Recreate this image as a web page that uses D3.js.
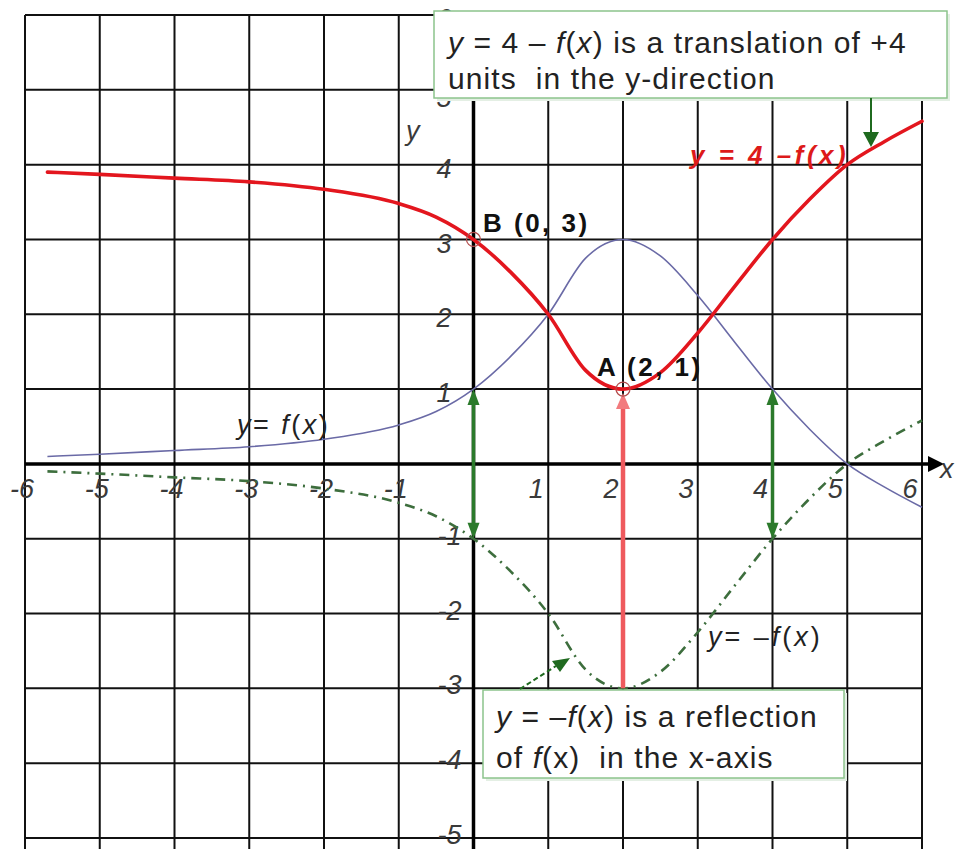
<!DOCTYPE html>
<html>
<head>
<meta charset="utf-8">
<script src="https://cdn.jsdelivr.net/npm/d3@7"></script>
<style>
  html, body { margin: 0; padding: 0; background: #fff; }
  svg { display: block; }
  text { font-family: "Liberation Sans", Arial, sans-serif; }
</style>
</head>
<body>
<svg id="chart" width="955" height="849"></svg>
<script>
// ---- data ----
const xTicks = [-6, -5, -4, -3, -2, -1, 1, 2, 3, 4, 5, 6];
const yTicks = [-5, -4, -3, -2, -1, 1, 2, 3, 4, 5, 6];
const gridX = [-6, -5, -4, -3, -2, -1, 0, 1, 2, 3, 4, 5, 6];
const gridY = [-5, -4, -3, -2, -1, 0, 1, 2, 3, 4, 5, 6];
const fX = [-5.7, -5, -4, -3, -2, -1, -0.5, 0, 0.5, 1, 1.5, 2, 2.5, 3, 3.5, 4, 4.5, 5, 5.5, 6];
const fY = [0.1, 0.13, 0.18, 0.23, 0.33, 0.52, 0.7, 1, 1.44, 2, 2.75, 3, 2.78, 2.25, 1.62, 1, 0.46, 0, -0.31, -0.58];
const pointsAB = [{name: "A (2, 1)", x: 2, y: 1}, {name: "B (0, 3)", x: 0, y: 3}];
const greenArrowX = [0, 4];

// ---- scales ----
const W = 955, H = 849;
const x = d3.scaleLinear().domain([-6, 6]).range([25, 922]);
const y = d3.scaleLinear().domain([-5, 6]).range([838, 15]);

const svg = d3.select("#chart");

// grid
const grid = svg.append("g");
grid.selectAll("line.v").data(gridX).join("line")
  .attr("x1", d => x(d)).attr("x2", d => x(d))
  .attr("y1", y(6)).attr("y2", H)
  .attr("stroke", "#111").attr("stroke-width", 2);
grid.selectAll("line.h").data(gridY.filter(d => d !== 0)).join("line")
  .attr("x1", x(-6)).attr("x2", x(6))
  .attr("y1", d => y(d)).attr("y2", d => y(d))
  .attr("stroke", "#111").attr("stroke-width", 2);

// axes (thick)
svg.append("line").attr("x1", x(-6)).attr("x2", x(6) + 8)
  .attr("y1", y(0)).attr("y2", y(0)).attr("stroke", "#000").attr("stroke-width", 3.5);
svg.append("path")
  .attr("d", `M${x(6) + 6},${y(0) - 8} L${x(6) + 22},${y(0)} L${x(6) + 6},${y(0) + 8} Z`)
  .attr("fill", "#000");
svg.append("line").attr("x1", x(0)).attr("x2", x(0))
  .attr("y1", y(6)).attr("y2", H).attr("stroke", "#000").attr("stroke-width", 3.5);

// tick labels
const tickStyle = sel => sel.attr("font-size", 27).attr("font-style", "italic")
  .attr("fill", "#3a3a3a");
svg.append("g").selectAll("text").data(xTicks).join("text")
  .attr("x", d => x(d) + (d < 0 ? -3 : -12))
  .attr("y", y(0) + 27)
  .attr("dominant-baseline", "middle")
  .attr("text-anchor", "middle")
  .text(d => d < 0 ? "-" + Math.abs(d) : d)
  .call(tickStyle);
svg.append("g").selectAll("text").data(yTicks).join("text")
  .attr("x", d => x(0) + (d < 0 ? -12 : -22))
  .attr("y", d => y(d) + (d > 0 ? (d === 5 ? 10 : 6) : -1))
  .attr("dominant-baseline", "middle")
  .attr("text-anchor", "end")
  .text(d => d < 0 ? "-" + Math.abs(d) : d)
  .call(tickStyle);
svg.append("text").attr("x", 406).attr("y", 140).text("y").call(tickStyle);
svg.append("text").attr("x", 940).attr("y", 478).text("x").call(tickStyle);

// curves
const fData = fX.map((v, i) => ({x: v, f: fY[i]}));
const mk = acc => d3.line().x(d => x(d.x)).y(d => y(acc(d))).curve(d3.curveMonotoneX);

svg.append("path").datum(fData).attr("d", mk(d => -d.f))
  .attr("fill", "none").attr("stroke", "#3d6e3d").attr("stroke-width", 2.6)
  .attr("stroke-dasharray", "10,6,2,6");

svg.append("path").datum(fData).attr("d", mk(d => d.f))
  .attr("fill", "none").attr("stroke", "#6a6aa6").attr("stroke-width", 1.6);

// green double arrows
const gA = svg.append("g");
greenArrowX.forEach(v => {
  const cx = x(v), yt = y(1), yb = y(-1);
  gA.append("line").attr("x1", cx).attr("x2", cx).attr("y1", yt + 10).attr("y2", yb - 10)
    .attr("stroke", "#2b7a2b").attr("stroke-width", 3.5);
  gA.append("path").attr("d", `M${cx},${yt} L${cx - 6},${yt + 16} L${cx + 6},${yt + 16} Z`).attr("fill", "#2b7a2b");
  gA.append("path").attr("d", `M${cx},${yb} L${cx - 6},${yb - 16} L${cx + 6},${yb - 16} Z`).attr("fill", "#2b7a2b");
});

// red vertical arrow at x=2
svg.append("line").attr("x1", x(2)).attr("x2", x(2)).attr("y1", y(-3)).attr("y2", y(1) + 14)
  .attr("stroke", "#ef5a5e").attr("stroke-width", 4.5);
svg.append("path")
  .attr("d", `M${x(2)},${y(1) + 4} L${x(2) - 7},${y(1) + 20} L${x(2) + 7},${y(1) + 20} Z`)
  .attr("fill", "#f27b7e");

// red curve 4 - f(x)
svg.append("path").datum(fData).attr("d", mk(d => 4 - d.f))
  .attr("fill", "none").attr("stroke", "#e3161e").attr("stroke-width", 3.6)
  .attr("stroke-linecap", "round");

// point markers
svg.append("g").selectAll("circle").data(pointsAB).join("circle")
  .attr("cx", d => x(d.x)).attr("cy", d => y(d.y)).attr("r", 7)
  .attr("fill", "none").attr("stroke", "#b24a4a").attr("stroke-width", 1.2);
svg.append("text").attr("x", 483).attr("y", 232).attr("font-size", 26).attr("font-weight", "bold")
  .attr("letter-spacing", 2.5).attr("fill", "#111").text(pointsAB[1].name);
svg.append("text").attr("x", 597).attr("y", 376).attr("font-size", 26).attr("font-weight", "bold")
  .attr("letter-spacing", 2.5).attr("fill", "#111").text(pointsAB[0].name);

// curve labels
svg.append("text").attr("x", 690).attr("y", 164).attr("font-size", 26).attr("font-weight", "bold")
  .attr("font-style", "italic").attr("letter-spacing", 3.5).attr("fill", "#dd1a1a").text("y = 4 –f(x)");
const lab1 = svg.append("text").attr("x", 237).attr("y", 434).attr("font-size", 27)
  .attr("letter-spacing", 2.5).attr("fill", "#222");
lab1.append("tspan").attr("font-style", "italic").text("y");
lab1.append("tspan").text("= ");
lab1.append("tspan").attr("font-style", "italic").text("f");
lab1.append("tspan").text("(");
lab1.append("tspan").attr("font-style", "italic").text("x");
lab1.append("tspan").text(")");
const lab2 = svg.append("text").attr("x", 708).attr("y", 646).attr("font-size", 27)
  .attr("letter-spacing", 3).attr("fill", "#222");
lab2.append("tspan").attr("font-style", "italic").text("y");
lab2.append("tspan").text("= –");
lab2.append("tspan").attr("font-style", "italic").text("f");
lab2.append("tspan").text("(");
lab2.append("tspan").attr("font-style", "italic").text("x");
lab2.append("tspan").text(")");

// annotation: top box
svg.append("rect").attr("x", 437).attr("y", 14).attr("width", 513).attr("height", 87)
  .attr("fill", "#e4efe4");
svg.append("rect").attr("x", 434).attr("y", 11).attr("width", 513).attr("height", 87)
  .attr("fill", "#fff").attr("stroke", "#8cc48c").attr("stroke-width", 1.5);
const t1 = svg.append("text").attr("x", 448).attr("y", 53).attr("font-size", 30)
  .attr("letter-spacing", 1.1).attr("fill", "#222");
t1.append("tspan").attr("font-style", "italic").text("y");
t1.append("tspan").text(" = 4 – ");
t1.append("tspan").attr("font-style", "italic").text("f");
t1.append("tspan").text("(");
t1.append("tspan").attr("font-style", "italic").text("x");
t1.append("tspan").text(") is a translation of +4");
svg.append("text").attr("x", 448).attr("y", 89).attr("font-size", 30)
  .attr("letter-spacing", 1.1).attr("fill", "#222")
  .style("white-space", "pre").text("units  in the y-direction");
// arrow from top box
svg.append("line").attr("x1", 871).attr("x2", 871).attr("y1", 98).attr("y2", 134)
  .attr("stroke", "#1f6a1f").attr("stroke-width", 2);
svg.append("path").attr("d", "M863,132 L879,132 L871,147 Z").attr("fill", "#1f6a1f");

// annotation: bottom box
svg.append("rect").attr("x", 486).attr("y", 693).attr("width", 361).attr("height", 88)
  .attr("fill", "#e4efe4");
svg.append("rect").attr("x", 483).attr("y", 690).attr("width", 361).attr("height", 88)
  .attr("fill", "#fff").attr("stroke", "#8cc48c").attr("stroke-width", 1.5);
const b1 = svg.append("text").attr("x", 496).attr("y", 727).attr("font-size", 30)
  .attr("letter-spacing", 1.1).attr("fill", "#222");
b1.append("tspan").attr("font-style", "italic").text("y");
b1.append("tspan").text(" = –");
b1.append("tspan").attr("font-style", "italic").text("f");
b1.append("tspan").text("(");
b1.append("tspan").attr("font-style", "italic").text("x");
b1.append("tspan").text(") is a reflection");
const b2 = svg.append("text").attr("x", 496).attr("y", 768).attr("font-size", 30)
  .attr("letter-spacing", 1.1).attr("fill", "#222").style("white-space", "pre");
b2.append("tspan").text("of ");
b2.append("tspan").attr("font-style", "italic").text("f");
b2.append("tspan").text("(x)  in the x-axis");
// arrow from bottom box
svg.append("line").attr("x1", 520).attr("y1", 689).attr("x2", 556).attr("y2", 666)
  .attr("stroke", "#1f6a1f").attr("stroke-width", 2).attr("stroke-dasharray", "5,3");
svg.append("path").attr("d", "M570,658 L552,661 L560,672 Z").attr("fill", "#1f6a1f");
</script>
</body>
</html>
